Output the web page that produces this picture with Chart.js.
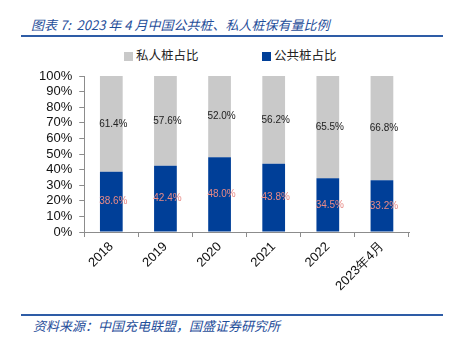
<!DOCTYPE html>
<html>
<head>
<meta charset="utf-8">
<script src="https://cdn.jsdelivr.net/npm/chart.js@4/dist/chart.umd.min.js"></script>
<style>
  html, body { margin: 0; padding: 0; background: #fff; }
  body { width: 450px; height: 340px; position: relative; overflow: hidden; font-family: "Noto Sans CJK SC", sans-serif; }
  .title { position: absolute; left: 31px; top: 15px; font-size: 13px; color: #1f4e9a; font-style: italic; white-space: nowrap; }
  .rule { position: absolute; left: 21px; width: 422px; height: 2px; background: #2e5ca6; }
  .source { position: absolute; left: 33px; top: 316px; font-size: 13px; color: #1f4e9a; font-style: italic; white-space: nowrap; }
  .legend { position: absolute; top: 46px; font-size: 12.5px; color: #222; white-space: nowrap; line-height: 18px; }
  .legend i { display: inline-block; width: 9px; height: 9px; margin-right: 3px; vertical-align: -1px; }
  #wrap { position: absolute; left: 0; top: 40px; width: 450px; height: 265px; }
</style>
</head>
<body>
<div class="title">图表 7:&nbsp; 2023 年 4 月中国公共桩、私人桩保有量比例</div>
<div class="rule" style="top:35px"></div>
<div id="legend"></div>
<div id="wrap"><canvas id="c"></canvas></div>
<div class="rule" style="top:314px"></div>
<div class="source">资料来源：中国充电联盟，国盛证券研究所</div>
<script>
// Share of public vs. private charging piles (%)
const categories = ["2018", "2019", "2020", "2021", "2022", "2023年4月"];
const publicShare = [38.6, 42.4, 48.0, 43.8, 34.5, 33.2];
const privateShare = [61.4, 57.6, 52.0, 56.2, 65.5, 66.8];
const yTicks = [0, 10, 20, 30, 40, 50, 60, 70, 80, 90, 100];

const labelColors = ["#e88a86", "#222222"];

// Writes each segment's value in the middle of its bar piece
const segmentLabels = {
  id: "segmentLabels",
  afterDatasetsDraw(chart) {
    const ctx = chart.ctx;
    ctx.save();
    ctx.font = "10px 'Liberation Sans', Arial, sans-serif";
    ctx.textAlign = "center";
    ctx.textBaseline = "middle";
    chart.data.datasets.forEach((ds, di) => {
      const meta = chart.getDatasetMeta(di);
      meta.data.forEach((bar, i) => {
        const mid = (bar.y + bar.base) / 2;
        ctx.fillStyle = labelColors[di];
        ctx.fillText(ds.data[i].toFixed(1) + "%", bar.x + 2, mid);
      });
    });
    ctx.restore();
  }
};

const chart = new Chart(document.getElementById("c"), {
  type: "bar",
  data: {
    labels: categories,
    datasets: [
      { label: "公共桩占比", data: publicShare, backgroundColor: "#003f98", barPercentage: 0.84, categoryPercentage: 0.5 },
      { label: "私人桩占比", data: privateShare, backgroundColor: "#c9c9c9", barPercentage: 0.84, categoryPercentage: 0.5 }
    ]
  },
  options: {
    responsive: true,
    maintainAspectRatio: false,
    animation: false,
    layout: { padding: { left: 32, right: 41, top: 36, bottom: 9 } },
    plugins: {
      tooltip: { enabled: false },
      legend: { display: false }
    },
    scales: {
      x: {
        stacked: true,
        border: { color: "#8c8c8c", width: 1 },
        grid: { display: true, drawOnChartArea: false, drawTicks: true, tickLength: 5, color: "#8c8c8c", offset: true },
        ticks: { color: "#111", maxRotation: 45, minRotation: 45, padding: 2, font: { size: 13, family: "'Liberation Sans', Arial, sans-serif" } }
      },
      y: {
        stacked: true,
        min: 0, max: 100,
        afterBuildTicks(axis) { axis.ticks = yTicks.map(v => ({ value: v })); },
        border: { color: "#8c8c8c", width: 1 },
        grid: { display: true, drawOnChartArea: false, drawTicks: true, tickLength: 5, color: "#8c8c8c" },
        ticks: { color: "#111", padding: 7, autoSkip: false, callback: v => v + "%", font: { size: 13, family: "'Liberation Sans', Arial, sans-serif" } }
      }
    }
  },
  plugins: [segmentLabels]
});

// Legend built from the chart's datasets, private share listed first
const legendPos = [124, 262];
const legendEl = document.getElementById("legend");
chart.data.datasets.slice().reverse().forEach((ds, k) => {
  const item = document.createElement("div");
  item.className = "legend";
  item.style.left = legendPos[k] + "px";
  item.innerHTML = '<i style="background:' + ds.backgroundColor + '"></i>' + ds.label;
  legendEl.appendChild(item);
});
</script>
</body>
</html>
